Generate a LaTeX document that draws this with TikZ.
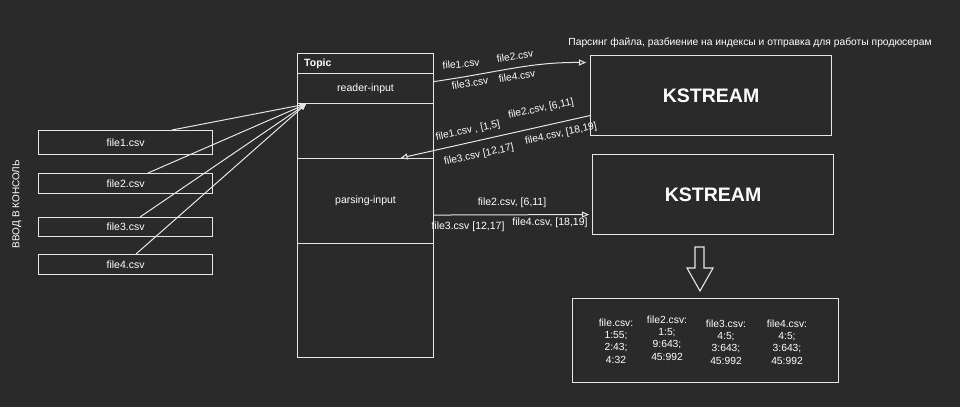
\documentclass[tikz,border=0pt]{standalone}
\usepackage{fontspec}
\setmainfont{Liberation Sans}
\usetikzlibrary{arrows.meta}
\definecolor{bg}{HTML}{2A2A2A}
\definecolor{ln}{HTML}{E6E6E6}
\begin{document}
\begin{tikzpicture}[x=1pt,y=-1pt,
  box/.style={draw=ln, line width=1.1pt, inner sep=0pt, anchor=north west, text=white, font=\fontsize{10.5}{12}\selectfont},
  txt/.style={text=white, font=\fontsize{10.5}{12}\selectfont, inner sep=1pt},
  rtxt/.style={text=white, font=\fontsize{10.2}{12}\selectfont, inner sep=0pt},
  coltxt/.style={text=white, font=\fontsize{10.3}{12.4}\selectfont, align=center, inner sep=0pt},
  kbig/.style={font=\fontsize{19.5}{22}\selectfont\bfseries},
  arr/.style={draw=ln, line width=1pt, -{Triangle[open,length=7pt,width=6pt]}},
  thin/.style={draw=ln, line width=1pt, -{Triangle[open,length=6pt,width=5pt]}},
]
\fill[bg] (0,0) rectangle (960,407);
\useasboundingbox (0,0) rectangle (960,407);

% console input label
\node[txt, rotate=90, font=\fontsize{10}{12}\selectfont] (vv) at (17,204) {ВВОД В КОНСОЛЬ};

% file boxes
\node[box, minimum width=174pt, minimum height=24pt] (f1) at (38,130) {file1.csv};
\node[box, minimum width=174pt, minimum height=20pt] (f2) at (38,173) {file2.csv};
\node[box, minimum width=174pt, minimum height=19pt] (f3) at (38,217) {file3.csv};
\node[box, minimum width=174pt, minimum height=20pt] (f4) at (38,254) {file4.csv};

% topic column
\node[box, minimum width=136pt, minimum height=20pt] (topic) at (297,53) {};
\node[txt, anchor=west, font=\fontsize{10.5}{12}\selectfont\bfseries] (topiclbl) at ([xshift=6pt]topic.west) {Topic};
\node[box, minimum width=136pt, minimum height=30pt] (reader) at (297,73) {reader-input};
\node[box, minimum width=136pt, minimum height=55pt] (gap) at (297,103) {};
\node[box, minimum width=136pt, minimum height=85pt] (parsing) at (297,158) {parsing-input};
\node[box, minimum width=136pt, minimum height=114pt] (bottom) at (297,243) {};

\coordinate (hub) at ([xshift=9pt]reader.south west);

% file -> reader-input
\draw[thin] ([xshift=134pt]f1.north west) -- (hub);
\draw[thin] ([xshift=110pt]f2.north west) -- (hub);
\draw[thin] ([xshift=102pt]f3.north west) -- (hub);
\draw[thin] ([xshift=98pt]f4.north west) -- (hub);

% KSTREAM boxes
\node[box, minimum width=241pt, minimum height=80pt, kbig] (k1) at (590,55) {KSTREAM};
\node[box, minimum width=241pt, minimum height=80pt, kbig] (k2) at (592,154) {KSTREAM};
\node[txt, font=\fontsize{10.3}{12}\selectfont] (title) at (750,43) {Парсинг файла, разбиение на индексы и отправка для работы продюсерам};

% reader-input -> KSTREAM 1
\draw[arr] ([yshift=7pt]reader.east) .. controls (500,72) and (530,62) .. ([xshift=-4pt,yshift=33pt]k1.west);
\node[rtxt, rotate=5] (l1) at (461,64) {file1.csv};
\node[rtxt, rotate=9] (l2) at (515,56) {file2.csv};
\node[rtxt, rotate=9] (l3) at (470,83) {file3.csv};
\node[rtxt, rotate=9] (l4) at (517,76) {file4.csv};

% KSTREAM 1 -> topic
\draw[arr] ([yshift=-20pt]k1.west) -- ([xshift=35pt]parsing.north);
\node[rtxt, rotate=12] (m1) at (468,131) {file1.csv , [1,5]};
\node[rtxt, rotate=12] (m2) at (541,109) {file2.csv, [6,11]};
\node[rtxt, rotate=12] (m3) at (479,155) {file3.csv [12,17]};
\node[rtxt, rotate=12] (m4) at (561,134) {file4.csv, [18,19]};

% parsing-input -> KSTREAM 2
\draw[arr] ([yshift=-14pt]parsing.east) -- ([xshift=-3pt,yshift=-20pt]k2.west);
\node[txt] (n1) at (512,203) {file2.csv, [6,11]};
\node[txt] (n2) at (468,227) {file3.csv [12,17]};
\node[txt] (n3) at (550,223) {file4.csv, [18,19]};

% block arrow down
\draw[draw=ln, line width=1.1pt, line join=miter] (695,247) -- (704,247) -- (704,268) -- (713,268) -- (700,291) -- (687,268) -- (695,268) -- cycle;

% result box
\node[box, minimum width=266pt, minimum height=84pt] (res) at (572,298) {};
\node[coltxt] (c1) at (616,341) {file.csv:\\1:55;\\2:43;\\4:32};
\node[coltxt] (c2) at (667,338) {file2.csv:\\1:5;\\9:643;\\45:992};
\node[coltxt] (c3) at (726,342) {file3.csv:\\4:5;\\3:643;\\45:992};
\node[coltxt] (c4) at (787,342) {file4.csv:\\4:5;\\3:643;\\45:992};
\end{tikzpicture}
\end{document}
